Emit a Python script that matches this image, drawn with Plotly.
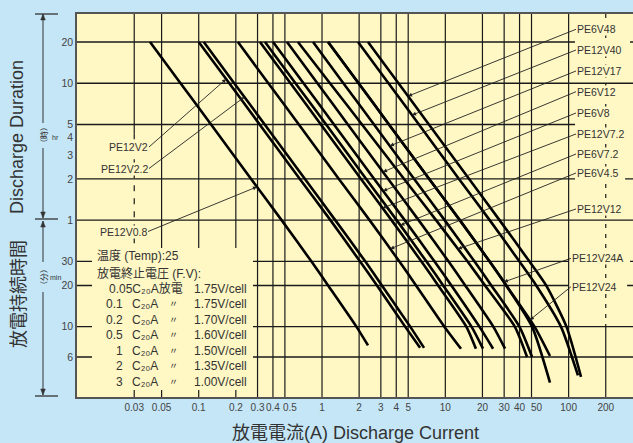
import numpy as np
import plotly.graph_objects as go

# ------------------------------------------------------------------ data
# discharge time points (minutes): 20h, 10h, 5h, 2h, 1h, 30min, 20min, 10min
times_min = [1200, 600, 300, 120, 60, 30, 20, 10]

series_names = ["PE12V0.8", "PE12V2", "PE12V2.2", "PE6V4.5", "PE12V7.2", "PE6V7.2",
                "PE6V8", "PE6V12", "PE12V12", "PE12V17", "PE12V24", "PE12V24A",
                "PE12V40", "PE6V48"]

# current (A) at each of times_min, last value = current at the end point
cur_PE12V0_8 = [0.0403, 0.0712, 0.126, 0.266, 0.470, 0.819, 1.12, 1.90, 2.36]
cur_PE12V2 = [0.100, 0.177, 0.312, 0.661, 1.17, 2.03, 2.79, 4.72, 6.24]
cur_PE12V2_2 = [0.110, 0.194, 0.343, 0.727, 1.28, 2.24, 3.06, 5.19, 6.72]
cur_PE6V4_5 = [0.208, 0.367, 0.649, 1.37, 2.43, 4.23, 5.79, 9.82, 13.4]
cur_PE12V7_2 = [0.314, 0.555, 0.979, 2.07, 3.66, 6.38, 8.75, 14.8, 17.7]
cur_PE6V7_2 = [0.345, 0.609, 1.08, 2.28, 4.03, 7.01, 9.61, 16.3, 20.2]
cur_PE6V8 = [0.401, 0.708, 1.25, 2.65, 4.68, 8.15, 11.2, 18.9, 24.4]
cur_PE6V12 = [0.520, 0.918, 1.62, 3.44, 6.07, 10.6, 14.5, 24.5, 30.5]
cur_PE12V12 = [0.638, 1.16, 2.11, 4.63, 8.41, 15.1, 21.0, 36.6, 46.0]
cur_PE12V17 = [0.846, 1.49, 2.64, 5.59, 9.87, 17.2, 23.6, 39.9, 50.5]
cur_PE12V24 = [1.12, 1.98, 3.49, 7.40, 13.1, 22.8, 31.2, 52.9, 70.6]
cur_PE12V24A = [1.12, 1.98, 3.49, 7.40, 13.1, 22.8, 31.2, 50.5, 70.6]
cur_PE12V40 = [1.96, 3.46, 6.11, 12.9, 22.9, 39.8, 54.6, 86.6, 119]
cur_PE6V48 = [2.36, 4.17, 7.36, 15.6, 27.5, 48.0, 65.7, 96.0, 126]

# discharge time (minutes) at the end point of every curve
end_times = [7.3, 7.0, 7.0, 6.9, 6.9, 6.9, 6.9, 6.9, 6.0, 6.0, 6.1, 3.9, 4.4, 4.3]

series_currents = [cur_PE12V0_8, cur_PE12V2, cur_PE12V2_2, cur_PE6V4_5, cur_PE12V7_2,
                   cur_PE6V7_2, cur_PE6V8, cur_PE6V12, cur_PE12V12, cur_PE12V17,
                   cur_PE12V24, cur_PE12V24A, cur_PE12V40, cur_PE6V48]

# axis ticks (0.5 and 50 are printed slightly to the right, on a second axis)
x_tickvals = [0.03, 0.05, 0.1, 0.2, 0.3, 0.4, 1, 2, 3, 4, 5, 10, 20, 30, 40, 100, 200]
x_ticktext = ["0.03", "0.05", "0.1", "0.2", "0.3", "0.4", "1", "2", "3", "4", "5",
              "10", "20", "30", "40", "100", "200"]
x_tickvals_shifted = [0.5, 50]
x_ticktext_shifted = ["0.5", "50"]
x_gridvals = [0.03, 0.05, 0.1, 0.2, 0.3, 0.4, 0.5, 1, 2, 3, 4, 5, 10, 20, 30, 40, 50, 100, 200]
y_tickvals = [6, 10, 20, 30, 60, 120, 180, 240, 300, 600, 1200]
y_ticktext = ["6", "10", "20", "30", "1", "2", "3", "4", "5", "10", "20"]

# labelled curves and the time (min) where each arrow touches its curve
label_names = ["PE6V48", "PE12V40", "PE12V17", "PE6V12", "PE6V8", "PE12V7.2", "PE6V7.2",
               "PE6V4.5", "PE12V12", "PE12V24A", "PE12V24", "PE12V2", "PE12V2.2", "PE12V0.8"]
label_tip_min = [483, 351, 209, 135, 98, 73.5, 55, 37, 37, 21.2, 11.2, 644, 476, 105]

# legend block text
legend_head = ["温度 (Temp):25", "放電終止電圧 (F.V):"]
rate_values = ["0.05", "0.1", "0.2", "0.5", "1", "2", "3"]
end_voltages = ["1.75", "1.75", "1.70", "1.60", "1.50", "1.35", "1.00"]
rate_unit = "C₂₀A"

# ------------------------------------------------------------------ layout
W, H = 633, 443
ML, MT, PW, PH = 77, 14, 556, 383
XR = [-1.987, 2.522]
YR = [0.486, 3.284]
PLOT_BG = "#FFF8C4"
PAPER_BG = "#C4E6F7"
INK = "#333333"
GRID = "#1a1a1a"
FONT = "Liberation Sans, Arial, DejaVu Sans, Noto Sans CJK JP, sans-serif"


def px_x(px):
    return (px - ML) / PW


def px_y(py):
    return (MT + PH - py) / PH


def data_px(i, t):
    x = ML + (np.log10(i) - XR[0]) / (XR[1] - XR[0]) * PW
    y = MT + (YR[1] - np.log10(t)) / (YR[1] - YR[0]) * PH
    return x, y


def curve_current_at(idx, t):
    ts = np.log10(np.array(times_min + [end_times[idx]], dtype=float))[::-1]
    cs = np.log10(np.array(series_currents[idx], dtype=float))[::-1]
    return 10 ** np.interp(np.log10(t), ts, cs)


fig = go.Figure()

YMIN, YMAX = 10 ** YR[0], 10 ** YR[1]
XLO, XHI = 0.005, 2000

# ---- grid (solid)
gx, gy = [], []
for v in x_gridvals:
    if v == 0.03:
        gx += [v, v, None, v, v, None]
        gy += [YMAX, 259, None, 37.5, YMIN, None]
    elif v == 200:
        gx += [v, v, None]
        gy += [10, YMIN, None]
    else:
        gx += [v, v, None]
        gy += [YMIN, YMAX, None]
h_segments = [(1200, XLO, 112.7), (1200, 315, XHI), (600, XLO, XHI), (300, XLO, 112.7),
              (120, XLO, 112.7), (120, 287, XHI), (60, XLO, XHI), (30, XLO, 100),
              (30, 315, XHI), (20, XLO, 100), (20, 298, XHI), (10, XLO, XHI), (6, XLO, XHI)]
hx, hy = [], []
for t, a, b in h_segments:
    hx += [a, b, None]
    hy += [t, t, None]
fig.add_trace(go.Scatter(x=gx, y=gy, mode="lines", line=dict(color=GRID, width=1.2),
                         hoverinfo="skip"))
fig.add_trace(go.Scatter(x=hx, y=hy, mode="lines", line=dict(color=GRID, width=1.4),
                         hoverinfo="skip"))
# ---- grid (dashed parts)
fig.add_trace(go.Scatter(x=[0.03, 0.03], y=[259, 37.5], mode="lines",
                         line=dict(color=GRID, width=1.2, dash="6px,7px"), hoverinfo="skip"))
fig.add_trace(go.Scatter(x=[200, 200], y=[YMAX, 10], mode="lines", xaxis="x2",
                         line=dict(color=GRID, width=1.2, dash="4px,6px"), hoverinfo="skip"))

# ---- discharge curves
for idx, name in enumerate(series_names):
    fig.add_trace(go.Scatter(
        x=series_currents[idx], y=times_min + [end_times[idx]], mode="lines", name=name,
        line=dict(color="#000000", width=2.6, shape="spline", smoothing=0.6),
        hoverinfo="skip"))

annotations = []

# ---- curve labels with arrows
right_tail = {"PE6V48": (576, 29.3), "PE12V40": (576, 50), "PE12V17": (576, 71),
              "PE6V12": (576, 91.7), "PE6V8": (576, 113), "PE12V7.2": (576, 134),
              "PE6V7.2": (576, 154), "PE6V4.5": (576, 173), "PE12V12": (576, 209),
              "PE12V24A": (571, 258.3), "PE12V24": (571, 286.7)}
left_tail = {"PE12V2": (149, 147), "PE12V2.2": (149, 168.5), "PE12V0.8": (148, 231.5)}
for name, tmin in zip(label_names, label_tip_min):
    idx = series_names.index(name)
    cur = curve_current_at(idx, tmin)
    tx, ty = data_px(cur, tmin)
    if name in right_tail:
        lx, ly = right_tail[name]
        xa = "left"
    else:
        lx, ly = left_tail[name]
        xa = "right"
    annotations.append(dict(
        x=float(np.log10(cur)), y=float(np.log10(tmin)), xref="x", yref="y",
        text=name, showarrow=True, ax=float(lx - tx), ay=float(ly - ty),
        xanchor=xa, yanchor="middle", arrowhead=2, arrowsize=0.9, arrowwidth=0.9,
        arrowcolor="#222222", bgcolor=PLOT_BG, borderpad=0,
        font=dict(family=FONT, size=10.5, color=INK)))

# ---- legend block
legend_rows_y = [256, 273, 289, 304, 320, 335, 351, 366, 382]
LFS = 12
for k, txt in enumerate(legend_head):
    annotations.append(dict(x=px_x(95), y=px_y(legend_rows_y[k]), xref="paper", yref="paper",
                            text=txt, showarrow=False, xanchor="left", yanchor="middle",
                            font=dict(family=FONT, size=LFS, color=INK)))
for k, (rv, ev) in enumerate(zip(rate_values, end_voltages)):
    yy = px_y(legend_rows_y[k + 2])
    if k == 0:
        annotations.append(dict(x=px_x(107), y=yy, xref="paper", yref="paper",
                                text=rv + rate_unit + "放電", showarrow=False,
                                xanchor="left", yanchor="middle",
                                font=dict(family=FONT, size=LFS, color=INK)))
    else:
        annotations.append(dict(x=px_x(125), y=yy, xref="paper", yref="paper", text=rv,
                                showarrow=False, xanchor="right", yanchor="middle",
                                font=dict(family=FONT, size=LFS, color=INK)))
        annotations.append(dict(x=px_x(130), y=yy, xref="paper", yref="paper",
                                text=rate_unit, showarrow=False, xanchor="left",
                                yanchor="middle", font=dict(family=FONT, size=LFS, color=INK)))
        annotations.append(dict(x=px_x(173), y=yy, xref="paper", yref="paper", text="〃",
                                showarrow=False, xanchor="center", yanchor="middle",
                                font=dict(family=FONT, size=9, color=INK)))
    annotations.append(dict(x=px_x(249), y=yy, xref="paper", yref="paper",
                            text=ev + "V/cell", showarrow=False, xanchor="right",
                            yanchor="middle", font=dict(family=FONT, size=LFS, color=INK)))

# ---- titles
annotations.append(dict(x=px_x(17), y=px_y(137), xref="paper", yref="paper",
                        xanchor="center", yanchor="middle",
                        text="Discharge Duration", textangle=-90, showarrow=False,
                        font=dict(family=FONT, size=18, color=INK)))
annotations.append(dict(x=px_x(17), y=px_y(294), xref="paper", yref="paper",
                        xanchor="center", yanchor="middle",
                        text="放電持続時間", textangle=-90, showarrow=False,
                        font=dict(family="Noto Sans CJK JP", size=18, color=INK)))
annotations.append(dict(x=px_x(355), y=px_y(433), xref="paper", yref="paper",
                        xanchor="center", yanchor="middle",
                        text="放電電流(A) Discharge Current", showarrow=False,
                        font=dict(family=FONT, size=18, color=INK)))

# ---- unit labels beside the brackets
annotations.append(dict(x=px_x(43), y=px_y(135), xref="paper", yref="paper", text="（時）",
                        xanchor="center", yanchor="middle", textangle=-90, showarrow=False,
                        font=dict(family="Noto Sans CJK JP", size=8, color=INK)))
annotations.append(dict(x=px_x(50), y=px_y(137), xref="paper", yref="paper", text="hr",
                        showarrow=False, xanchor="left", yanchor="middle",
                        font=dict(family=FONT, size=7, color=INK)))
annotations.append(dict(x=px_x(43), y=px_y(277), xref="paper", yref="paper", text="（分）",
                        xanchor="center", yanchor="middle", textangle=-90, showarrow=False,
                        font=dict(family="Noto Sans CJK JP", size=8, color=INK)))
annotations.append(dict(x=px_x(48), y=px_y(277), xref="paper", yref="paper", text="min",
                        showarrow=False, xanchor="left", yanchor="middle",
                        font=dict(family=FONT, size=7, color=INK)))

shapes = [
    # legend background covering grid
    dict(type="rect", xref="paper", yref="paper", x0=px_x(92), x1=px_x(253),
         y0=px_y(390), y1=px_y(248), fillcolor=PLOT_BG, line=dict(width=0), layer="above"),
]
# bracket bars
for yb in [14, 219, 396]:
    shapes.append(dict(type="line", xref="paper", yref="paper", x0=px_x(35), x1=px_x(58),
                       y0=px_y(yb), y1=px_y(yb), line=dict(color=INK, width=1.3)))
# bracket stems with arrow heads
BX = 43
for (y_head, y_tail) in [(14, 123), (218, 148), (221, 262), (395, 292)]:
    shapes.append(dict(type="line", xref="paper", yref="paper", x0=px_x(BX), x1=px_x(BX),
                       y0=px_y(y_head), y1=px_y(y_tail), line=dict(color=INK, width=1)))
    d = 6 if y_tail > y_head else -6
    path = "M {:.5f},{:.5f} L {:.5f},{:.5f} L {:.5f},{:.5f} Z".format(
        px_x(BX), px_y(y_head), px_x(BX - 2.3), px_y(y_head + d),
        px_x(BX + 2.3), px_y(y_head + d))
    shapes.append(dict(type="path", xref="paper", yref="paper", path=path,
                       fillcolor=INK, line=dict(color=INK, width=0.5)))

tick_font = dict(family=FONT, size=10, color="#444444")
fig.update_layout(
    width=W, height=H,
    margin=dict(l=ML, r=W - ML - PW, t=MT, b=H - MT - PH, pad=0),
    paper_bgcolor=PAPER_BG, plot_bgcolor=PLOT_BG,
    showlegend=False, hovermode=False,
    annotations=annotations, shapes=shapes,
    xaxis=dict(type="log", range=XR, tickvals=x_tickvals, ticktext=x_ticktext,
               showgrid=False, zeroline=False, showline=True, mirror=True,
               linecolor="#555555", linewidth=1.6, ticks="", tickangle=0,
               automargin=False, tickfont=tick_font),
    xaxis2=dict(type="log", range=XR, overlaying="x", anchor="y", side="bottom",
                tickvals=x_tickvals_shifted, ticktext=x_ticktext_shifted,
                showgrid=False, zeroline=False, showline=True, linewidth=1.6,
                linecolor="rgba(0,0,0,0)", ticks="", tickangle=0,
                ticklabelshift=5, automargin=False, tickfont=tick_font),
    yaxis=dict(type="log", range=YR, tickvals=y_tickvals, ticktext=y_ticktext,
               showgrid=False, zeroline=False, showline=True, mirror=False,
               linecolor="#555555", linewidth=1.6, ticks="", automargin=False,
               tickfont=dict(family=FONT, size=10.5, color="#444444")),
)

fig.write_html("out.html", config={"displayModeBar": False},
               post_script="document.body.style.margin='0px';")
